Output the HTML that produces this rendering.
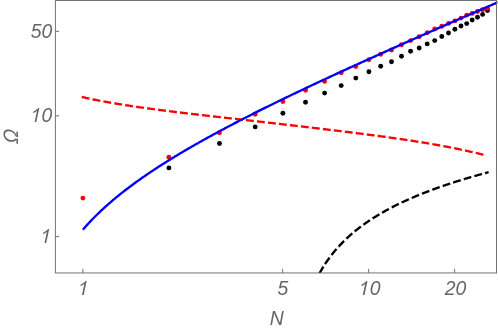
<!DOCTYPE html>
<html><head><meta charset="utf-8"><style>
html,body{margin:0;padding:0;background:#fff;overflow:hidden}
svg{display:block}
text{font-family:"Liberation Sans",sans-serif;font-style:italic;font-size:19.4px;fill:#666;filter:grayscale(1)}
</style></head><body>
<svg width="498" height="331" viewBox="0 0 498 331">
<rect width="498" height="331" fill="#fff"/>
<clipPath id="c"><rect x="55.4" y="0" width="442.1" height="272.95"/></clipPath>
<g fill="#000"><circle cx="168.9" cy="167.9" r="2.45"/><circle cx="219.5" cy="143.5" r="2.45"/><circle cx="255.2" cy="126.9" r="2.45"/><circle cx="282.9" cy="113.3" r="2.45"/><circle cx="305.5" cy="102.2" r="2.45"/><circle cx="324.6" cy="93.1" r="2.45"/><circle cx="341.2" cy="85.6" r="2.45"/><circle cx="355.8" cy="78.1" r="2.45"/><circle cx="368.9" cy="71.7" r="2.45"/><circle cx="380.7" cy="66.3" r="2.45"/><circle cx="391.5" cy="61.7" r="2.45"/><circle cx="401.5" cy="56.2" r="2.45"/><circle cx="410.6" cy="51.3" r="2.45"/><circle cx="419.2" cy="48.0" r="2.45"/><circle cx="427.2" cy="43.9" r="2.45"/><circle cx="434.7" cy="40.6" r="2.45"/><circle cx="441.8" cy="36.5" r="2.45"/><circle cx="448.5" cy="33.0" r="2.45"/><circle cx="454.9" cy="29.2" r="2.45"/><circle cx="461.0" cy="26.0" r="2.45"/><circle cx="466.7" cy="23.6" r="2.45"/><circle cx="472.2" cy="20.0" r="2.45"/><circle cx="477.5" cy="17.3" r="2.45"/><circle cx="482.6" cy="14.4" r="2.45"/><circle cx="487.5" cy="10.6" r="2.45"/></g>
<g fill="#f00"><circle cx="82.9" cy="198.1" r="2.45"/><circle cx="168.9" cy="157.3" r="2.45"/><circle cx="219.5" cy="132.7" r="2.45"/><circle cx="255.2" cy="114.2" r="2.45"/><circle cx="282.9" cy="101.5" r="2.45"/><circle cx="305.5" cy="90.2" r="2.45"/><circle cx="324.6" cy="81.4" r="2.45"/><circle cx="341.2" cy="72.8" r="2.45"/><circle cx="355.8" cy="66.6" r="2.45"/><circle cx="368.9" cy="59.8" r="2.45"/><circle cx="380.7" cy="54.2" r="2.45"/><circle cx="391.5" cy="50.0" r="2.45"/><circle cx="401.5" cy="44.7" r="2.45"/><circle cx="410.6" cy="40.6" r="2.45"/><circle cx="419.2" cy="36.7" r="2.45"/><circle cx="427.2" cy="32.8" r="2.45"/><circle cx="434.7" cy="29.0" r="2.45"/><circle cx="441.8" cy="26.2" r="2.45"/><circle cx="448.5" cy="23.4" r="2.45"/><circle cx="454.9" cy="20.9" r="2.45"/><circle cx="461.0" cy="18.1" r="2.45"/><circle cx="466.7" cy="15.1" r="2.45"/><circle cx="472.2" cy="13.4" r="2.45"/><circle cx="477.5" cy="11.5" r="2.45"/><circle cx="482.6" cy="9.7" r="2.45"/><circle cx="487.5" cy="8.2" r="2.45"/></g>
<g clip-path="url(#c)" fill="none" stroke-width="2.35">
<path d="M82.90,97.24 L83.90,97.46 L84.90,97.68 L85.90,97.90 L86.90,98.11 L87.90,98.32 L88.90,98.53 L89.90,98.74 L90.90,98.95 L91.90,99.15 L92.90,99.36 L93.90,99.56 L94.90,99.76 L95.90,99.96 L96.90,100.15 L97.90,100.35 L98.90,100.54 L99.90,100.73 L100.90,100.92 L101.90,101.11 L102.90,101.30 L103.90,101.48 L104.90,101.66 L105.90,101.85 L106.90,102.03 L107.90,102.21 L108.90,102.38 L109.90,102.56 L110.90,102.73 L111.90,102.91 L112.90,103.08 L113.90,103.25 L114.90,103.42 L115.90,103.59 L116.90,103.75 L117.90,103.92 L118.90,104.08 L119.90,104.25 L120.90,104.41 L121.90,104.57 L122.90,104.73 L123.90,104.89 L124.90,105.04 L125.90,105.20 L126.90,105.36 L127.90,105.51 L128.90,105.66 L129.90,105.82 L130.90,105.97 L131.90,106.12 L132.90,106.27 L133.90,106.42 L134.90,106.56 L135.90,106.71 L136.90,106.86 L137.90,107.00 L138.90,107.14 L139.90,107.29 L140.90,107.43 L141.90,107.57 L142.90,107.71 L143.90,107.85 L144.90,107.99 L145.90,108.13 L146.90,108.27 L147.90,108.41 L148.90,108.54 L149.90,108.68 L150.90,108.81 L151.90,108.95 L152.90,109.08 L153.90,109.21 L154.90,109.35 L155.90,109.48 L156.90,109.61 L157.90,109.74 L158.90,109.87 L159.90,110.00 L160.90,110.13 L161.90,110.26 L162.90,110.39 L163.90,110.51 L164.90,110.64 L165.90,110.77 L166.90,110.89 L167.90,111.02 L168.90,111.15 L169.90,111.27 L170.90,111.40 L171.90,111.52 L172.90,111.64 L173.90,111.77 L174.90,111.89 L175.90,112.01 L176.90,112.13 L177.90,112.26 L178.90,112.38 L179.90,112.50 L180.90,112.62 L181.90,112.74 L182.90,112.86 L183.90,112.98 L184.90,113.10 L185.90,113.22 L186.90,113.34 L187.90,113.46 L188.90,113.58 L189.90,113.69 L190.90,113.81 L191.90,113.93 L192.90,114.05 L193.90,114.16 L194.90,114.28 L195.90,114.40 L196.90,114.52 L197.90,114.63 L198.90,114.75 L199.90,114.86 L200.90,114.98 L201.90,115.10 L202.90,115.21 L203.90,115.33 L204.90,115.44 L205.90,115.56 L206.90,115.67 L207.90,115.79 L208.90,115.90 L209.90,116.02 L210.90,116.13 L211.90,116.25 L212.90,116.36 L213.90,116.48 L214.90,116.59 L215.90,116.70 L216.90,116.82 L217.90,116.93 L218.90,117.05 L219.90,117.16 L220.90,117.27 L221.90,117.39 L222.90,117.50 L223.90,117.61 L224.90,117.73 L225.90,117.84 L226.90,117.95 L227.90,118.07 L228.90,118.18 L229.90,118.29 L230.90,118.41 L231.90,118.52 L232.90,118.63 L233.90,118.75 L234.90,118.86 L235.90,118.97 L236.90,119.09 L237.90,119.20 L238.90,119.31 L239.90,119.43 L240.90,119.54 L241.90,119.65 L242.90,119.76 L243.90,119.88 L244.90,119.99 L245.90,120.10 L246.90,120.22 L247.90,120.33 L248.90,120.44 L249.90,120.56 L250.90,120.67 L251.90,120.78 L252.90,120.90 L253.90,121.01 L254.90,121.12 L255.90,121.24 L256.90,121.35 L257.90,121.46 L258.90,121.58 L259.90,121.69 L260.90,121.80 L261.90,121.92 L262.90,122.03 L263.90,122.14 L264.90,122.26 L265.90,122.37 L266.90,122.49 L267.90,122.60 L268.90,122.71 L269.90,122.83 L270.90,122.94 L271.90,123.06 L272.90,123.17 L273.90,123.29 L274.90,123.40 L275.90,123.51 L276.90,123.63 L277.90,123.74 L278.90,123.86 L279.90,123.97 L280.90,124.09 L281.90,124.20 L282.90,124.32 L283.90,124.43 L284.90,124.55 L285.90,124.66 L286.90,124.78 L287.90,124.89 L288.90,125.01 L289.90,125.12 L290.90,125.24 L291.90,125.36 L292.90,125.47 L293.90,125.59 L294.90,125.70 L295.90,125.82 L296.90,125.94 L297.90,126.05 L298.90,126.17 L299.90,126.28 L300.90,126.40 L301.90,126.52 L302.90,126.64 L303.90,126.75 L304.90,126.87 L305.90,126.99 L306.90,127.10 L307.90,127.22 L308.90,127.34 L309.90,127.46 L310.90,127.57 L311.90,127.69 L312.90,127.81 L313.90,127.93 L314.90,128.05 L315.90,128.16 L316.90,128.28 L317.90,128.40 L318.90,128.52 L319.90,128.64 L320.90,128.76 L321.90,128.88 L322.90,129.00 L323.90,129.12 L324.90,129.24 L325.90,129.36 L326.90,129.48 L327.90,129.60 L328.90,129.72 L329.90,129.84 L330.90,129.96 L331.90,130.08 L332.90,130.20 L333.90,130.32 L334.90,130.44 L335.90,130.57 L336.90,130.69 L337.90,130.81 L338.90,130.93 L339.90,131.05 L340.90,131.18 L341.90,131.30 L342.90,131.42 L343.90,131.55 L344.90,131.67 L345.90,131.79 L346.90,131.92 L347.90,132.04 L348.90,132.17 L349.90,132.29 L350.90,132.42 L351.90,132.54 L352.90,132.67 L353.90,132.79 L354.90,132.92 L355.90,133.05 L356.90,133.17 L357.90,133.30 L358.90,133.43 L359.90,133.55 L360.90,133.68 L361.90,133.81 L362.90,133.94 L363.90,134.07 L364.90,134.20 L365.90,134.32 L366.90,134.45 L367.90,134.58 L368.90,134.71 L369.90,134.85 L370.90,134.98 L371.90,135.11 L372.90,135.24 L373.90,135.37 L374.90,135.51 L375.90,135.64 L376.90,135.77 L377.90,135.91 L378.90,136.04 L379.90,136.17 L380.90,136.31 L381.90,136.45 L382.90,136.58 L383.90,136.72 L384.90,136.86 L385.90,136.99 L386.90,137.13 L387.90,137.27 L388.90,137.41 L389.90,137.55 L390.90,137.69 L391.90,137.83 L392.90,137.97 L393.90,138.11 L394.90,138.25 L395.90,138.40 L396.90,138.54 L397.90,138.68 L398.90,138.83 L399.90,138.97 L400.90,139.12 L401.90,139.27 L402.90,139.41 L403.90,139.56 L404.90,139.71 L405.90,139.86 L406.90,140.01 L407.90,140.16 L408.90,140.31 L409.90,140.47 L410.90,140.62 L411.90,140.77 L412.90,140.93 L413.90,141.08 L414.90,141.24 L415.90,141.40 L416.90,141.55 L417.90,141.71 L418.90,141.87 L419.90,142.03 L420.90,142.19 L421.90,142.36 L422.90,142.52 L423.90,142.68 L424.90,142.85 L425.90,143.01 L426.90,143.18 L427.90,143.35 L428.90,143.52 L429.90,143.69 L430.90,143.86 L431.90,144.03 L432.90,144.21 L433.90,144.38 L434.90,144.56 L435.90,144.73 L436.90,144.91 L437.90,145.09 L438.90,145.27 L439.90,145.45 L440.90,145.63 L441.90,145.82 L442.90,146.00 L443.90,146.19 L444.90,146.38 L445.90,146.57 L446.90,146.76 L447.90,146.95 L448.90,147.14 L449.90,147.34 L450.90,147.53 L451.90,147.73 L452.90,147.93 L453.90,148.13 L454.90,148.33 L455.90,148.54 L456.90,148.74 L457.90,148.95 L458.90,149.16 L459.90,149.37 L460.90,149.58 L461.90,149.79 L462.90,150.01 L463.90,150.23 L464.90,150.45 L465.90,150.67 L466.90,150.89 L467.90,151.11 L468.90,151.34 L469.90,151.57 L470.90,151.80 L471.90,152.03 L472.90,152.26 L473.90,152.50 L474.90,152.74 L475.90,152.98 L476.90,153.22 L477.90,153.46 L478.90,153.71 L479.90,153.96 L480.90,154.21 L481.90,154.46 L482.90,154.72 L483.90,154.97 L484.90,155.23" stroke="#f00" stroke-dasharray="5.53 5.53" stroke-linecap="square"/>
<path d="M319.95,272.50 L320.45,271.61 L320.95,270.74 L321.45,269.88 L321.95,269.03 L322.45,268.20 L322.95,267.38 L323.45,266.57 L323.95,265.78 L324.45,264.99 L324.95,264.22 L325.45,263.46 L325.95,262.71 L326.45,261.97 L326.95,261.24 L327.45,260.52 L327.95,259.82 L328.45,259.12 L328.95,258.43 L329.45,257.74 L329.95,257.07 L330.45,256.41 L330.95,255.75 L331.45,255.10 L331.95,254.46 L332.45,253.83 L332.95,253.21 L333.45,252.59 L333.95,251.98 L334.45,251.38 L334.95,250.78 L335.45,250.19 L335.95,249.61 L336.45,249.03 L336.95,248.46 L337.45,247.90 L337.95,247.34 L338.45,246.79 L338.95,246.24 L339.45,245.70 L339.95,245.16 L340.45,244.63 L340.95,244.11 L341.45,243.59 L341.95,243.08 L342.45,242.57 L342.95,242.06 L343.45,241.56 L343.95,241.07 L344.45,240.58 L344.95,240.09 L345.45,239.61 L345.95,239.13 L346.45,238.66 L346.95,238.19 L347.45,237.73 L347.95,237.27 L348.45,236.81 L348.95,236.36 L349.45,235.91 L349.95,235.47 L350.45,235.02 L350.95,234.59 L351.45,234.15 L351.95,233.72 L352.45,233.30 L352.95,232.87 L353.45,232.45 L353.95,232.04 L354.45,231.62 L354.95,231.21 L355.45,230.81 L355.95,230.40 L356.45,230.00 L356.95,229.61 L357.45,229.21 L357.95,228.82 L358.45,228.43 L358.95,228.05 L359.45,227.66 L359.95,227.28 L360.45,226.91 L360.95,226.53 L361.45,226.16 L361.95,225.79 L362.45,225.42 L362.95,225.06 L363.45,224.70 L363.95,224.34 L364.45,223.98 L364.95,223.63 L365.45,223.27 L365.95,222.92 L366.45,222.58 L366.95,222.23 L367.45,221.89 L367.95,221.55 L368.45,221.21 L368.95,220.87 L369.45,220.54 L369.95,220.21 L370.45,219.88 L370.95,219.55 L371.45,219.22 L371.95,218.90 L372.45,218.58 L372.95,218.26 L373.45,217.94 L373.95,217.62 L374.45,217.31 L374.95,217.00 L375.45,216.69 L375.95,216.38 L376.45,216.07 L376.95,215.77 L377.45,215.46 L377.95,215.16 L378.45,214.86 L378.95,214.56 L379.45,214.27 L379.95,213.97 L380.45,213.68 L380.95,213.39 L381.45,213.10 L381.95,212.81 L382.45,212.52 L382.95,212.24 L383.45,211.95 L383.95,211.67 L384.45,211.39 L384.95,211.11 L385.45,210.83 L385.95,210.56 L386.45,210.28 L386.95,210.01 L387.45,209.74 L387.95,209.47 L388.45,209.20 L388.95,208.93 L389.45,208.67 L389.95,208.40 L390.45,208.14 L390.95,207.87 L391.45,207.61 L391.95,207.35 L392.45,207.10 L392.95,206.84 L393.45,206.58 L393.95,206.33 L394.45,206.07 L394.95,205.82 L395.45,205.57 L395.95,205.32 L396.45,205.07 L396.95,204.82 L397.45,204.58 L397.95,204.33 L398.45,204.09 L398.95,203.85 L399.45,203.60 L399.95,203.36 L400.45,203.12 L400.95,202.89 L401.45,202.65 L401.95,202.41 L402.45,202.18 L402.95,201.94 L403.45,201.71 L403.95,201.48 L404.45,201.25 L404.95,201.02 L405.45,200.79 L405.95,200.56 L406.45,200.33 L406.95,200.11 L407.45,199.88 L407.95,199.66 L408.45,199.43 L408.95,199.21 L409.45,198.99 L409.95,198.77 L410.45,198.55 L410.95,198.33 L411.45,198.11 L411.95,197.90 L412.45,197.68 L412.95,197.47 L413.45,197.25 L413.95,197.04 L414.45,196.83 L414.95,196.61 L415.45,196.40 L415.95,196.19 L416.45,195.98 L416.95,195.78 L417.45,195.57 L417.95,195.36 L418.45,195.16 L418.95,194.95 L419.45,194.75 L419.95,194.54 L420.45,194.34 L420.95,194.14 L421.45,193.94 L421.95,193.74 L422.45,193.54 L422.95,193.34 L423.45,193.14 L423.95,192.95 L424.45,192.75 L424.95,192.55 L425.45,192.36 L425.95,192.16 L426.45,191.97 L426.95,191.78 L427.45,191.59 L427.95,191.39 L428.45,191.20 L428.95,191.01 L429.45,190.82 L429.95,190.63 L430.45,190.45 L430.95,190.26 L431.45,190.07 L431.95,189.89 L432.45,189.70 L432.95,189.52 L433.45,189.33 L433.95,189.15 L434.45,188.97 L434.95,188.78 L435.45,188.60 L435.95,188.42 L436.45,188.24 L436.95,188.06 L437.45,187.88 L437.95,187.70 L438.45,187.53 L438.95,187.35 L439.45,187.17 L439.95,187.00 L440.45,186.82 L440.95,186.65 L441.45,186.47 L441.95,186.30 L442.45,186.12 L442.95,185.95 L443.45,185.78 L443.95,185.61 L444.45,185.44 L444.95,185.27 L445.45,185.10 L445.95,184.93 L446.45,184.76 L446.95,184.59 L447.45,184.42 L447.95,184.26 L448.45,184.09 L448.95,183.92 L449.45,183.76 L449.95,183.59 L450.45,183.43 L450.95,183.27 L451.45,183.10 L451.95,182.94 L452.45,182.78 L452.95,182.61 L453.45,182.45 L453.95,182.29 L454.45,182.13 L454.95,181.97 L455.45,181.81 L455.95,181.65 L456.45,181.49 L456.95,181.34 L457.45,181.18 L457.95,181.02 L458.45,180.87 L458.95,180.71 L459.45,180.55 L459.95,180.40 L460.45,180.24 L460.95,180.09 L461.45,179.94 L461.95,179.78 L462.45,179.63 L462.95,179.48 L463.45,179.32 L463.95,179.17 L464.45,179.02 L464.95,178.87 L465.45,178.72 L465.95,178.57 L466.45,178.42 L466.95,178.27 L467.45,178.12 L467.95,177.98 L468.45,177.83 L468.95,177.68 L469.45,177.53 L469.95,177.39 L470.45,177.24 L470.95,177.10 L471.45,176.95 L471.95,176.80 L472.45,176.66 L472.95,176.52 L473.45,176.37 L473.95,176.23 L474.45,176.09 L474.95,175.94 L475.45,175.80 L475.95,175.66 L476.45,175.52 L476.95,175.38 L477.45,175.24 L477.95,175.10 L478.45,174.96 L478.95,174.82 L479.45,174.68 L479.95,174.54 L480.45,174.40 L480.95,174.26 L481.45,174.12 L481.95,173.99 L482.45,173.85 L482.95,173.71 L483.45,173.58 L483.95,173.44 L484.45,173.31 L484.95,173.17 L485.45,173.04 L485.95,172.90 L486.45,172.77 L486.95,172.63 L487.45,172.50" stroke="#000" stroke-dasharray="5.53 5.53" stroke-linecap="square"/>
<path d="M82.90,229.65 L83.90,228.50 L84.90,227.36 L85.90,226.23 L86.90,225.12 L87.90,224.03 L88.90,222.95 L89.90,221.88 L90.90,220.82 L91.90,219.78 L92.90,218.75 L93.90,217.73 L94.90,216.72 L95.90,215.73 L96.90,214.74 L97.90,213.77 L98.90,212.80 L99.90,211.85 L100.90,210.90 L101.90,209.97 L102.90,209.04 L103.90,208.12 L104.90,207.21 L105.90,206.31 L106.90,205.41 L107.90,204.53 L108.90,203.65 L109.90,202.78 L110.90,201.92 L111.90,201.06 L112.90,200.21 L113.90,199.37 L114.90,198.54 L115.90,197.71 L116.90,196.88 L117.90,196.07 L118.90,195.26 L119.90,194.45 L120.90,193.65 L121.90,192.86 L122.90,192.07 L123.90,191.29 L124.90,190.51 L125.90,189.74 L126.90,188.98 L127.90,188.22 L128.90,187.46 L129.90,186.71 L130.90,185.96 L131.90,185.22 L132.90,184.48 L133.90,183.74 L134.90,183.02 L135.90,182.29 L136.90,181.57 L137.90,180.85 L138.90,180.14 L139.90,179.43 L140.90,178.72 L141.90,178.02 L142.90,177.32 L143.90,176.63 L144.90,175.94 L145.90,175.25 L146.90,174.57 L147.90,173.89 L148.90,173.21 L149.90,172.54 L150.90,171.87 L151.90,171.20 L152.90,170.54 L153.90,169.87 L154.90,169.22 L155.90,168.56 L156.90,167.91 L157.90,167.26 L158.90,166.61 L159.90,165.97 L160.90,165.33 L161.90,164.69 L162.90,164.05 L163.90,163.42 L164.90,162.79 L165.90,162.16 L166.90,161.53 L167.90,160.91 L168.90,160.29 L169.90,159.67 L170.90,159.05 L171.90,158.43 L172.90,157.82 L173.90,157.21 L174.90,156.60 L175.90,156.00 L176.90,155.39 L177.90,154.79 L178.90,154.19 L179.90,153.60 L180.90,153.00 L181.90,152.41 L182.90,151.81 L183.90,151.22 L184.90,150.64 L185.90,150.05 L186.90,149.47 L187.90,148.88 L188.90,148.30 L189.90,147.72 L190.90,147.15 L191.90,146.57 L192.90,146.00 L193.90,145.42 L194.90,144.85 L195.90,144.28 L196.90,143.72 L197.90,143.15 L198.90,142.59 L199.90,142.02 L200.90,141.46 L201.90,140.90 L202.90,140.34 L203.90,139.79 L204.90,139.23 L205.90,138.68 L206.90,138.12 L207.90,137.57 L208.90,137.02 L209.90,136.47 L210.90,135.93 L211.90,135.38 L212.90,134.83 L213.90,134.29 L214.90,133.75 L215.90,133.21 L216.90,132.67 L217.90,132.13 L218.90,131.59 L219.90,131.05 L220.90,130.52 L221.90,129.98 L222.90,129.45 L223.90,128.92 L224.90,128.39 L225.90,127.86 L226.90,127.33 L227.90,126.80 L228.90,126.28 L229.90,125.75 L230.90,125.23 L231.90,124.70 L232.90,124.18 L233.90,123.66 L234.90,123.14 L235.90,122.62 L236.90,122.10 L237.90,121.58 L238.90,121.06 L239.90,120.55 L240.90,120.03 L241.90,119.52 L242.90,119.01 L243.90,118.49 L244.90,117.98 L245.90,117.47 L246.90,116.96 L247.90,116.45 L248.90,115.95 L249.90,115.44 L250.90,114.93 L251.90,114.43 L252.90,113.92 L253.90,113.42 L254.90,112.91 L255.90,112.41 L256.90,111.91 L257.90,111.41 L258.90,110.91 L259.90,110.41 L260.90,109.91 L261.90,109.41 L262.90,108.92 L263.90,108.42 L264.90,107.92 L265.90,107.43 L266.90,106.93 L267.90,106.44 L268.90,105.95 L269.90,105.45 L270.90,104.96 L271.90,104.47 L272.90,103.98 L273.90,103.49 L274.90,103.00 L275.90,102.51 L276.90,102.02 L277.90,101.54 L278.90,101.05 L279.90,100.56 L280.90,100.08 L281.90,99.59 L282.90,99.11 L283.90,98.62 L284.90,98.14 L285.90,97.66 L286.90,97.17 L287.90,96.69 L288.90,96.21 L289.90,95.73 L290.90,95.25 L291.90,94.77 L292.90,94.29 L293.90,93.81 L294.90,93.33 L295.90,92.86 L296.90,92.38 L297.90,91.90 L298.90,91.43 L299.90,90.95 L300.90,90.47 L301.90,90.00 L302.90,89.53 L303.90,89.05 L304.90,88.58 L305.90,88.11 L306.90,87.63 L307.90,87.16 L308.90,86.69 L309.90,86.22 L310.90,85.75 L311.90,85.28 L312.90,84.81 L313.90,84.34 L314.90,83.87 L315.90,83.40 L316.90,82.93 L317.90,82.46 L318.90,82.00 L319.90,81.53 L320.90,81.06 L321.90,80.60 L322.90,80.13 L323.90,79.67 L324.90,79.20 L325.90,78.74 L326.90,78.27 L327.90,77.81 L328.90,77.34 L329.90,76.88 L330.90,76.42 L331.90,75.96 L332.90,75.49 L333.90,75.03 L334.90,74.57 L335.90,74.11 L336.90,73.65 L337.90,73.19 L338.90,72.73 L339.90,72.27 L340.90,71.81 L341.90,71.35 L342.90,70.89 L343.90,70.43 L344.90,69.97 L345.90,69.51 L346.90,69.06 L347.90,68.60 L348.90,68.14 L349.90,67.69 L350.90,67.23 L351.90,66.77 L352.90,66.32 L353.90,65.86 L354.90,65.41 L355.90,64.95 L356.90,64.50 L357.90,64.04 L358.90,63.59 L359.90,63.13 L360.90,62.68 L361.90,62.23 L362.90,61.77 L363.90,61.32 L364.90,60.87 L365.90,60.42 L366.90,59.96 L367.90,59.51 L368.90,59.06 L369.90,58.61 L370.90,58.16 L371.90,57.71 L372.90,57.26 L373.90,56.81 L374.90,56.36 L375.90,55.91 L376.90,55.46 L377.90,55.01 L378.90,54.56 L379.90,54.11 L380.90,53.66 L381.90,53.21 L382.90,52.76 L383.90,52.31 L384.90,51.87 L385.90,51.42 L386.90,50.97 L387.90,50.52 L388.90,50.08 L389.90,49.63 L390.90,49.18 L391.90,48.74 L392.90,48.29 L393.90,47.84 L394.90,47.40 L395.90,46.95 L396.90,46.51 L397.90,46.06 L398.90,45.62 L399.90,45.17 L400.90,44.73 L401.90,44.28 L402.90,43.84 L403.90,43.39 L404.90,42.95 L405.90,42.51 L406.90,42.06 L407.90,41.62 L408.90,41.18 L409.90,40.73 L410.90,40.29 L411.90,39.85 L412.90,39.40 L413.90,38.96 L414.90,38.52 L415.90,38.08 L416.90,37.64 L417.90,37.19 L418.90,36.75 L419.90,36.31 L420.90,35.87 L421.90,35.43 L422.90,34.99 L423.90,34.55 L424.90,34.11 L425.90,33.66 L426.90,33.22 L427.90,32.78 L428.90,32.34 L429.90,31.90 L430.90,31.46 L431.90,31.02 L432.90,30.58 L433.90,30.15 L434.90,29.71 L435.90,29.27 L436.90,28.83 L437.90,28.39 L438.90,27.95 L439.90,27.51 L440.90,27.07 L441.90,26.63 L442.90,26.20 L443.90,25.76 L444.90,25.32 L445.90,24.88 L446.90,24.45 L447.90,24.01 L448.90,23.57 L449.90,23.13 L450.90,22.70 L451.90,22.26 L452.90,21.82 L453.90,21.38 L454.90,20.95 L455.90,20.51 L456.90,20.07 L457.90,19.64 L458.90,19.20 L459.90,18.77 L460.90,18.33 L461.90,17.89 L462.90,17.46 L463.90,17.02 L464.90,16.59 L465.90,16.15 L466.90,15.72 L467.90,15.28 L468.90,14.85 L469.90,14.41 L470.90,13.97 L471.90,13.54 L472.90,13.11 L473.90,12.67 L474.90,12.24 L475.90,11.80 L476.90,11.37 L477.90,10.93 L478.90,10.50 L479.90,10.06 L480.90,9.63 L481.90,9.20 L482.90,8.76 L483.90,8.33 L484.90,7.89 L485.90,7.46 L486.90,7.03 L487.90,6.59 L488.90,6.16 L489.90,5.73 L490.90,5.29 L491.90,4.86 L492.90,4.43 L493.90,4.00 L494.90,3.56 L495.90,3.13 L496.90,2.70 L497.90,2.26 L498.90,1.83" stroke="#00f" stroke-linecap="butt" stroke-linejoin="round"/>
</g>
<g stroke="#727272" stroke-width="1" fill="none">
<rect x="55.4" y="0.5" width="441.1" height="272.45"/>
<line x1="82.9" y1="272.95" x2="82.9" y2="268.9"/><line x1="282.6" y1="272.95" x2="282.6" y2="268.9"/><line x1="368.6" y1="272.95" x2="368.6" y2="268.9"/><line x1="454.6" y1="272.95" x2="454.6" y2="268.9"/><line x1="55.4" y1="236.60" x2="59.1" y2="236.60"/><line x1="55.4" y1="115.80" x2="59.1" y2="115.80"/><line x1="55.4" y1="31.36" x2="59.1" y2="31.36"/></g>
<path d="M83.70,294.90L81.99,294.90L84.30,284.03Q83.56,284.62 82.44,285.21Q81.31,285.80 80.45,286.09L80.80,284.44Q82.37,283.77 83.63,282.82Q84.89,281.87 85.53,280.98L86.66,280.98Z" fill="#666"/>
<text x="283" y="294.9" text-anchor="middle">5</text>
<path d="M364.49,294.90L362.79,294.90L365.10,284.03Q364.36,284.62 363.23,285.21Q362.11,285.80 361.25,286.09L361.60,284.44Q363.16,283.77 364.43,282.82Q365.69,281.87 366.32,280.98L367.45,280.98Z" fill="#666"/><text x="369.65" y="294.9">0</text>
<text x="455.6" y="294.9" text-anchor="middle">20</text>
<text x="276.8" y="325" text-anchor="middle">N</text>
<text x="52.3" y="37.7" text-anchor="end">50</text>
<path d="M36.35,121.90L34.65,121.90L36.96,111.03Q36.22,111.62 35.09,112.21Q33.97,112.80 33.11,113.09L33.46,111.44Q35.03,110.77 36.29,109.82Q37.55,108.87 38.19,107.98L39.32,107.98Z" fill="#666"/><text x="52.3" y="121.9" text-anchor="end">0</text>
<path d="M46.23,242.90L44.52,242.90L46.83,232.03Q46.09,232.62 44.97,233.21Q43.84,233.80 42.99,234.09L43.34,232.44Q44.90,231.77 46.16,230.82Q47.43,229.87 48.06,228.98L49.19,228.98Z" fill="#666"/>
<text transform="translate(17.7,137.2) rotate(-90) skewX(-8) scale(0.93,1.04)" text-anchor="middle" style="font-size:20px">Ω</text>
</svg>
</body></html>
